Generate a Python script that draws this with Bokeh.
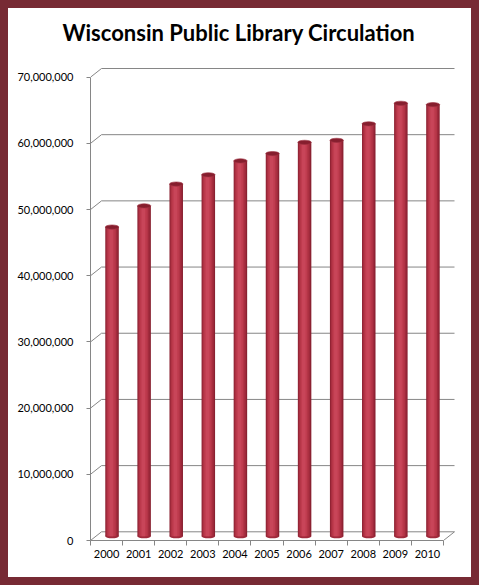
import numpy as np
from bokeh.plotting import figure
from bokeh.models import FixedTicker, NumeralTickFormatter, Range1d, ColumnDataSource
from bokeh.embed import file_html
from bokeh.resources import INLINE

# ---------------- data ----------------
years = ["2000", "2001", "2002", "2003", "2004", "2005",
         "2006", "2007", "2008", "2009", "2010"]
circulation = [46_700_000, 49_900_000, 53_200_000, 54_600_000, 56_700_000,
               57_800_000, 59_500_000, 59_800_000, 62_300_000, 65_400_000,
               65_200_000]
y_ticks = [0, 10_000_000, 20_000_000, 30_000_000, 40_000_000,
           50_000_000, 60_000_000, 70_000_000]
title_text = "Wisconsin Public Library Circulation"

# ---------------- geometry (pixels) ----------------
W, H = 479, 585
LEFT, RIGHT, TOP, BOTTOM = 90, 22, 64, 45
PX_PER_CAT = 353 / 11
PX_PER_VAL = 463.3 / 70_000_000
DX = 11 / PX_PER_CAT          # depth offset, category units
DY = 8.7 / PX_PER_VAL         # depth offset, value units
BAR_W = 13.5 / PX_PER_CAT
CAP_H = 4.2 / PX_PER_VAL

FONT = "Lato"
GRID = "#868686"
FRAME = "#772A34"

n = len(years)
xs = np.arange(n, dtype=float)
frame_w = W - LEFT - RIGHT
frame_h = H - TOP - BOTTOM

p = figure(width=W, height=H,
           x_range=Range1d(-0.5, -0.5 + frame_w / PX_PER_CAT),
           y_range=Range1d(0, frame_h / PX_PER_VAL),
           output_backend="svg", toolbar_location=None,
           min_border_left=LEFT, min_border_right=RIGHT,
           min_border_top=TOP, min_border_bottom=BOTTOM)
p.styles = {"background-color": "white",
            "box-shadow": f"inset 0 0 0 8px {FRAME}"}
p.outline_line_color = None
p.background_fill_color = "white"
p.border_fill_color = None
p.xgrid.visible = False
p.ygrid.visible = False

# title
p.title.text = title_text
p.title.text_font = FONT
p.title.text_font_style = "bold"
p.title.text_font_size = "22px"
p.title.text_color = "black"
p.title.align = "left"
p.title.vertical_align = "top"
p.title.offset = -28
p.title.standoff = 34

# ---------------- 3D walls / gridlines ----------------
yt = np.array(y_ticks, dtype=float)
x_left = -0.5
x_right = n - 0.5
seg_x0 = list(np.full(len(yt), x_left)) + list(np.full(len(yt), x_left + DX)) + [x_right]
seg_y0 = list(yt) + list(yt + DY) + [0.0]
seg_x1 = list(np.full(len(yt), x_left + DX)) + list(np.full(len(yt), x_right + DX)) + [x_right + DX]
seg_y1 = list(yt + DY) + list(yt + DY) + [DY]
p.segment(x0=seg_x0, y0=seg_y0, x1=seg_x1, y1=seg_y1, line_color=GRID, line_width=1)

# ---------------- cylinders ----------------
vals = np.array(circulation, dtype=float)
src = ColumnDataSource(dict(
    xc=xs + DX / 2,
    base=np.full(n, DY / 2),
    top=vals + DY / 2,
))

p.ellipse(x="xc", y="base", width=BAR_W, height=CAP_H, source=src,
          fill_color="#A02B3D", line_color=None)
layers = [(1.00, 0.00, "#8A2131"),
          (0.86, -0.02, "#A02A3C"),
          (0.68, -0.04, "#B33446"),
          (0.48, -0.05, "#BF3C4F"),
          (0.26, -0.06, "#C84559")]
for frac, shift, col in layers:
    p.vbar(x=xs + DX / 2 + shift * BAR_W, bottom=DY / 2, top=vals + DY / 2,
           width=BAR_W * frac, fill_color=col, line_color=None)
p.ellipse(x="xc", y="top", width=BAR_W, height=CAP_H, source=src,
          fill_color="#861E2E", line_color="#9C3040", line_width=0.6)

# ---------------- axes ----------------
ya = p.yaxis[0]
ya.ticker = FixedTicker(ticks=y_ticks, minor_ticks=[])
ya.formatter = NumeralTickFormatter(format="0,0")
ya.bounds = (y_ticks[0], y_ticks[-1])
ya.axis_line_color = GRID
ya.major_tick_line_color = GRID
ya.major_tick_in = 0
ya.major_tick_out = 4
ya.minor_tick_line_color = None
ya.major_label_standoff = 13
ya.major_label_text_font = FONT
ya.major_label_text_font_size = "11px"
ya.major_label_text_color = "black"

xa = p.xaxis[0]
xa.ticker = FixedTicker(ticks=list(xs), minor_ticks=[i - 0.5 for i in range(n + 1)])
xa.major_label_overrides = {i: years[i] for i in range(n)}
xa.bounds = (x_left, x_right)
xa.axis_line_color = GRID
xa.major_tick_line_color = None
xa.major_tick_in = 0
xa.major_tick_out = 0
xa.minor_tick_line_color = GRID
xa.minor_tick_in = 0
xa.minor_tick_out = 5
xa.major_label_standoff = 4
xa.major_label_text_font = FONT
xa.major_label_text_font_size = "11px"
xa.major_label_text_color = "black"

open("out.html", "w").write(file_html(p, INLINE))
